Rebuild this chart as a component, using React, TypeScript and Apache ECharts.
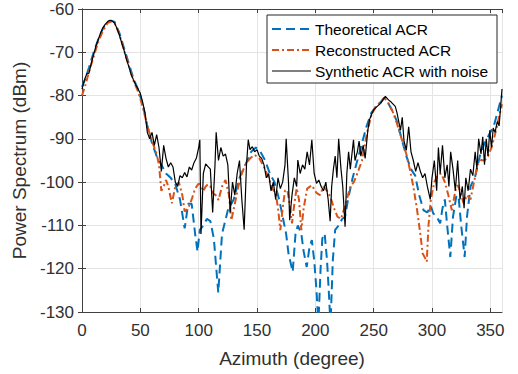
import React, { useEffect, useRef } from "react";
import * as echarts from "echarts";

const xTicks = [0, 50, 100, 150, 200, 250, 300, 350];
const yTicks = [-130, -120, -110, -100, -90, -80, -70, -60];

const seriesNames = ["Theoretical ACR", "Reconstructed ACR", "Synthetic ACR with noise"];

const theoAz = [0, 3, 6, 10, 14, 18, 22, 25, 28, 32, 36, 40, 44, 48, 52, 56, 60, 64, 68, 72, 76, 80, 84, 88, 91, 94, 97, 99, 101, 104, 107, 110, 113, 116.8, 120, 125, 130, 135, 140, 145, 149, 153, 157, 161, 165, 169, 172, 175, 177, 180.6, 183, 185, 188, 190, 192.6, 195, 197, 199, 201, 202.6, 204.5, 206, 208, 210, 211.5, 213, 215, 217, 220, 223, 225.5, 228, 232, 236, 240, 244, 248, 252, 256, 259, 262, 266, 270, 274, 278, 282, 285.6, 289, 292.8, 296, 299, 301, 304, 307, 309, 311, 313, 315.7, 318, 321, 323, 325, 328, 330, 333, 337, 341, 345, 349, 353, 357, 360];
const theoVal = [-78, -76, -73.5, -70, -67, -64.5, -63, -62.7, -63, -65.5, -69, -72.5, -76, -78.5, -82, -87, -91, -94, -96, -98, -99, -100.5, -104, -110.7, -105, -105, -112, -116, -111, -110, -108.5, -109, -113, -125.5, -112, -106.5, -104, -99, -96, -93, -92, -93, -95, -98, -100, -104, -108, -112, -116.5, -120.7, -112, -110, -112, -116, -119.6, -115, -113.4, -118, -125, -133, -120, -113, -111.9, -118, -125, -133, -118, -111, -110, -108.5, -108, -104, -99, -95, -91, -87, -84, -82.5, -81.5, -80.5, -81.5, -83.5, -86, -90, -94, -97, -98.5, -103, -106.5, -107, -105.5, -107.2, -108, -109.5, -106, -104, -110, -117.3, -108, -103, -104, -110, -117.3, -108, -101, -98.7, -94, -91, -89, -87, -83, -80];

const recAz = [0, 3, 6, 10, 14, 18, 22, 25, 28, 32, 36, 40, 44, 48, 52, 56, 60, 64, 66, 68, 70, 72, 74, 77, 80, 83, 86, 88, 91, 94, 97, 100, 102, 104, 106, 108, 110, 112, 114.5, 117, 120, 123, 126, 128, 131, 134, 137, 140, 144, 148, 152, 156, 160, 163, 166, 168, 170, 172, 174, 176, 178, 180, 182, 184, 186, 188, 190, 193, 197, 201, 204, 207, 210, 213, 216, 219, 222, 226, 230, 233, 236, 240, 244, 248, 252, 256, 259, 262, 266, 270, 274, 278, 281, 284, 287, 290, 292, 294, 295.5, 297, 299, 302, 305, 308, 311, 314, 317, 320, 322, 324, 327, 330, 333, 336, 339, 342, 345, 348, 351, 354, 357, 360];
const recVal = [-80, -77.5, -74.5, -71, -67.5, -65, -63.2, -62.9, -63.3, -65.8, -69.5, -73, -76.5, -79, -82.5, -87, -90.5, -93.5, -96, -102, -101, -99.5, -101, -104.9, -101, -100, -103, -106.8, -106, -104, -101.5, -100.3, -101.5, -102, -101, -100.5, -101, -102.5, -103, -104.1, -101, -99.5, -103, -108.8, -105, -101, -98, -96, -94.5, -93.7, -94.5, -96.5, -99, -101.5, -102.5, -106, -111.1, -106, -102, -101.8, -105, -109.5, -105, -101.4, -104, -111.1, -106, -101.5, -100.7, -102.5, -103, -101, -102, -103.5, -106, -108, -108.5, -105, -101, -100, -98, -95, -89, -84.5, -82.5, -81.5, -80.5, -81.5, -83.5, -86.5, -90, -93.5, -97, -101, -106, -112, -116.5, -117.5, -118.4, -110, -104, -100, -98.3, -98, -100, -103, -106.5, -102, -100.7, -102, -104.9, -103, -104, -100, -96, -94.9, -95, -94, -92, -89, -85.5, -82];

const synAz = [0, 2, 4, 6, 8, 10, 12, 14, 16, 18, 20, 22, 24, 26, 28, 30, 32, 34, 36, 38, 40, 42, 44, 46, 48, 50, 52, 54, 56, 58, 60, 62, 64, 66, 68, 70, 72, 74, 76, 78, 80, 82, 84, 86, 88, 90, 92, 94, 96, 98, 100, 101, 102, 104, 106, 108, 110, 112, 114, 115, 117, 119, 121, 123, 125, 127, 129, 131, 133, 135, 137, 139, 141, 142.5, 144, 146, 148, 150, 152, 154, 156, 158, 160, 162, 164, 166, 168, 170, 172, 174, 175, 177, 178, 180, 182, 184, 185, 187, 189, 191, 193, 195, 197, 199, 201, 203, 205, 207, 209, 211, 212.7, 214, 215.5, 217, 218.5, 220, 222, 223.5, 225.5, 227, 228.5, 230, 232.7, 234, 236, 237.5, 239, 241, 242.7, 245, 246.5, 248, 250, 253, 256, 258, 260, 262.7, 265, 268.5, 270, 271.5, 273, 274.5, 276, 278, 280, 282, 284, 286, 288, 290, 292, 294, 296, 298.5, 300, 302, 304, 305.5, 307, 309, 311, 313, 314.5, 316, 318, 320, 322, 324, 326, 327.5, 329, 331, 333, 335, 337, 338.5, 340, 342, 343.5, 345, 346.5, 348, 349.5, 351, 352.5, 354, 356, 357.5, 359, 360];
const synVal = [-78.5, -76.5, -75, -74.8, -72.5, -70.5, -68.5, -67, -65.5, -64.3, -63.5, -62.9, -62.6, -62.8, -63.3, -64.5, -66, -67.8, -69.5, -71.5, -73.2, -75, -76.3, -77.5, -78.5, -79.5, -81.5, -84, -88.5, -90, -88.5, -91.5, -89, -92, -97.5, -91.5, -94.5, -96.5, -95.5, -96.5, -100, -101, -98.5, -99, -97.8, -98.8, -96.5, -97.2, -95.5, -94.5, -92, -90.2, -112, -98, -95.8, -96.4, -97, -107, -96, -88.5, -95, -92, -94, -93.5, -96, -107, -100, -103, -98, -95, -104, -111, -96, -90.2, -92.5, -91.8, -93, -92.5, -94, -94.5, -96, -99, -98, -102, -100, -104, -99, -101.5, -100, -96, -90, -100, -108.8, -103, -99, -101, -94.9, -98, -96, -97, -93, -96, -90.2, -98, -100.3, -99.5, -101, -102, -100, -104, -109, -101, -97, -94, -99, -90, -97, -101, -110.3, -98, -93, -97, -90.2, -95, -93, -90.5, -94, -91.5, -94.5, -88, -85.5, -84.5, -83.3, -82.5, -81.8, -81, -80.2, -81, -81.5, -82.5, -84, -86, -88, -85, -90.5, -92.6, -87.2, -93, -95, -97.5, -95.5, -97.5, -99, -98, -101, -104, -99, -95, -102, -92, -98, -91.5, -99, -96, -101, -93, -97, -102, -95, -104, -101, -106, -99, -102, -97, -98.5, -93, -97, -90, -93.5, -89.5, -96, -90, -94, -88, -92, -87.5, -88.5, -86, -87, -82, -78.5];

const pairs = (xs: number[], ys: number[]) => xs.map((x, i) => [x, ys[i]]);

const FONT = "Liberation Sans, Arial, sans-serif";
const TXT = "#303030";

export default function App() {
  const ref = useRef<HTMLDivElement>(null);
  useEffect(() => {
    if (!ref.current) return;
    const chart = echarts.init(ref.current, undefined, { renderer: "svg" });
    const axisCommon = {
      type: "value" as const,
      axisLine: { show: true, lineStyle: { color: "#404040", width: 1 } },
      axisTick: { show: true, inside: true, length: 4, lineStyle: { color: "#404040" } },
    };
    const legendY = [29, 50, 71];
    const colors = ["#0072BD", "#D95319", "#000000"];
    const dashes: any[] = [[9, 5], [7, 3, 2, 3], "solid"];
    const widths = [2, 2, 1.2];
    const legendGraphics: any[] = [
      {
        type: "rect",
        shape: { x: 267, y: 15, width: 230, height: 68 },
        style: { fill: "#ffffff", stroke: "#262626", lineWidth: 1 },
        z: 100,
      },
    ];
    seriesNames.forEach((n, i) => {
      legendGraphics.push({
        type: "line",
        shape: { x1: 272, y1: legendY[i], x2: 311, y2: legendY[i] },
        style: { stroke: colors[i], lineWidth: widths[i], lineDash: dashes[i] === "solid" ? null : dashes[i] },
        z: 101,
      });
      legendGraphics.push({
        type: "text",
        x: 315,
        y: legendY[i],
        style: { text: n, fill: "#000", font: `15.5px ${FONT}`, verticalAlign: "middle", align: "left" },
        z: 101,
      });
    });
    chart.setOption({
      animation: false,
      backgroundColor: "#ffffff",
      grid: { left: 82, right: 16, top: 9, bottom: 62, containLabel: false },
      xAxis: [
        {
          ...axisCommon,
          min: 0,
          max: 360,
          interval: 50,
          name: "Azimuth (degree)",
          nameLocation: "middle",
          nameGap: 37,
          nameTextStyle: { color: TXT, fontSize: 19, fontFamily: FONT },
          axisLabel: {
            color: TXT,
            fontSize: 17,
            fontFamily: FONT,
            margin: 10,
            showMaxLabel: false,
            formatter: (v: number) => (xTicks.includes(v) ? String(v) : ""),
          },
          splitLine: { show: true, lineStyle: { color: "#e4e4e4", width: 1 } },
        },
        {
          ...axisCommon,
          position: "top",
          min: 0,
          max: 360,
          interval: 50,
          axisLabel: { show: false },
          splitLine: { show: false },
        },
      ],
      yAxis: [
        {
          ...axisCommon,
          min: -130,
          max: -60,
          interval: 10,
          name: "Power Spectrum (dBm)",
          nameLocation: "middle",
          nameGap: 52,
          nameTextStyle: { color: TXT, fontSize: 19, fontFamily: FONT },
          axisLabel: {
            color: TXT,
            fontSize: 17,
            fontFamily: FONT,
            margin: 8,
            formatter: (v: number) => (yTicks.includes(v) ? String(v) : ""),
          },
          splitLine: { show: true, lineStyle: { color: "#e4e4e4", width: 1 } },
        },
        {
          ...axisCommon,
          position: "right",
          min: -130,
          max: -60,
          interval: 10,
          axisLabel: { show: false },
          splitLine: { show: false },
        },
      ],
      series: [
        {
          name: seriesNames[0],
          type: "line",
          data: pairs(theoAz, theoVal),
          showSymbol: false,
          clip: true,
          lineStyle: { color: colors[0], width: 2, type: dashes[0] },
          z: 3,
        },
        {
          name: seriesNames[1],
          type: "line",
          data: pairs(recAz, recVal),
          showSymbol: false,
          clip: true,
          lineStyle: { color: colors[1], width: 2, type: dashes[1] },
          z: 4,
        },
        {
          name: seriesNames[2],
          type: "line",
          data: pairs(synAz, synVal),
          showSymbol: false,
          clip: true,
          lineStyle: { color: colors[2], width: 1.2 },
          z: 5,
        },
      ],
      graphic: legendGraphics,
    });
    return () => chart.dispose();
  }, []);
  return <div ref={ref} style={{ width: 518, height: 374, position: "absolute", left: 0, top: 0 }} />;
}
